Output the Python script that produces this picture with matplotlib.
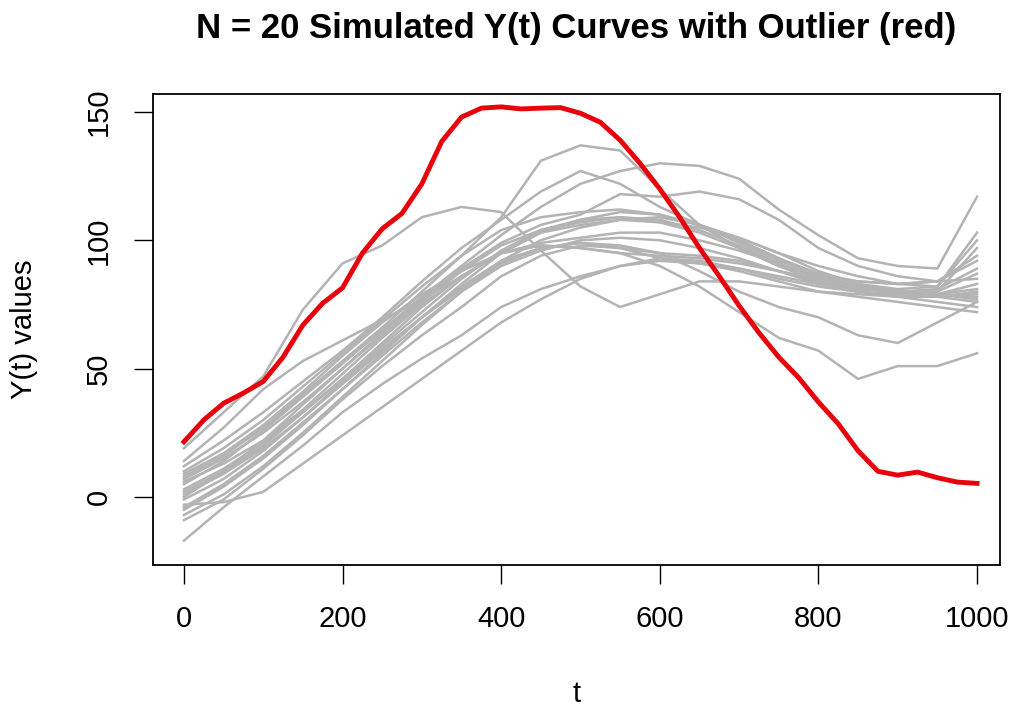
import numpy as np
import matplotlib
matplotlib.use("Agg")
import matplotlib.pyplot as plt

plt.rcParams["font.family"] = ["Liberation Sans", "DejaVu Sans"]

# grid of the gray curves
t = list(range(0, 1001, 50))

gray_curves = [
    [19, 33, 47, 73, 91, 98, 109, 113, 111, 96, 82, 74, 79, 84, 84, 82, 80, 79, 78, 78, 80],
    [14, 27, 42, 53, 61, 69, 77, 86, 95, 103, 108, 111, 110, 106, 99, 92, 87, 84, 83, 84, 92],
    [8, 16, 27, 40, 53, 66, 80, 94, 109, 131, 137, 135, 120, 106, 97, 90, 86, 84, 83, 84, 94],
    [5, 14, 26, 39, 52, 65, 78, 90, 102, 113, 122, 127, 130, 129, 124, 112, 102, 93, 90, 89, 117],
    [12, 22, 33, 45, 57, 70, 84, 97, 108, 119, 127, 122, 113, 106, 101, 95, 90, 86, 83, 82, 100],
    [0, 10, 22, 36, 50, 64, 77, 89, 99, 106, 110, 118, 117, 119, 116, 108, 97, 90, 86, 84, 85],
    [-3, -2, 2, 13, 24, 35, 46, 57, 68, 77, 85, 90, 92, 91, 88, 84, 80, 78, 76, 74, 72],
    [-17, -4, 8, 20, 33, 44, 54, 63, 74, 81, 86, 90, 93, 92, 89, 85, 82, 80, 79, 79, 83],
    [2, 10, 20, 33, 46, 60, 74, 86, 95, 98, 97, 95, 90, 82, 72, 62, 57, 46, 51, 51, 56],
    [-5, 4, 15, 28, 42, 56, 70, 82, 92, 97, 99, 98, 95, 88, 80, 74, 70, 63, 60, 68, 76],
    [10, 19, 30, 43, 56, 69, 82, 94, 104, 109, 111, 112, 110, 106, 100, 93, 87, 83, 81, 82, 103],
    [7, 15, 25, 37, 50, 63, 76, 88, 98, 104, 107, 109, 108, 104, 98, 91, 85, 82, 80, 80, 97],
    [3, 11, 21, 33, 46, 59, 72, 85, 96, 104, 108, 109, 107, 103, 97, 90, 84, 81, 80, 81, 89],
    [-7, 1, 12, 25, 39, 53, 67, 80, 92, 100, 105, 108, 109, 106, 100, 93, 86, 82, 80, 79, 81],
    [9, 17, 28, 41, 55, 68, 79, 88, 95, 99, 101, 103, 103, 100, 96, 91, 86, 82, 79, 78, 79],
    [6, 13, 22, 34, 48, 62, 75, 86, 95, 98, 97, 95, 94, 93, 91, 88, 85, 82, 80, 79, 78],
    [-1, 7, 18, 31, 45, 58, 70, 81, 91, 97, 99, 97, 93, 91, 89, 86, 83, 81, 80, 79, 77],
    [-9, -1, 11, 24, 38, 51, 63, 74, 86, 94, 98, 97, 95, 94, 92, 88, 83, 80, 78, 76, 74],
    [1, 9, 19, 31, 44, 57, 70, 83, 95, 103, 106, 108, 107, 105, 101, 95, 88, 83, 80, 78, 76],
    [-4, 5, 16, 29, 42, 55, 68, 80, 90, 96, 100, 101, 100, 97, 93, 88, 84, 81, 80, 80, 87],
]

# outlier curve
t_red = list(range(0, 1001, 25))
red_curve = [21.5, 30, 36.5, 40.5, 45, 54.5, 67, 75.5, 81.5, 95, 104.5, 110.5, 122,
             138.5, 148, 151.5, 152, 151.2, 151.5, 151.7, 149.5, 146, 139, 130, 120,
             109, 97, 86, 74.5, 64, 54.5, 46.5, 37, 28.5, 18, 10, 8.5, 9.7, 7.5, 5.8, 5.3]

fig = plt.figure(figsize=(10.16, 7.15), dpi=100)
ax = fig.add_axes([0.1506, 0.2098, 0.8337, 0.6587])

for y in gray_curves:
    ax.plot(t, y, color="#b3b3b3", linewidth=1.8)
ax.plot(t_red, red_curve, color="#e8000b", linewidth=3.5)

ax.set_xlim(-39, 1029)
ax.set_ylim(-26.5, 157)
ax.set_xticks([0, 200, 400, 600, 800, 1000])
ax.set_yticks([0, 50, 100, 150])
ax.tick_params(direction="out", length=14, width=1.0, labelsize=21, pad=15)
for lab in ax.get_yticklabels():
    lab.set_rotation(90)
    lab.set_va("center")
for s in ax.spines.values():
    s.set_linewidth(1.3)

ax.set_title("N = 20 Simulated Y(t) Curves with Outlier (red)",
             fontsize=25, fontweight="bold", pad=40)
ax.set_xlabel("t", fontsize=21, labelpad=34)
ax.set_ylabel("Y(t) values", fontsize=21, labelpad=34)

fig.savefig("out.png", dpi=100)
